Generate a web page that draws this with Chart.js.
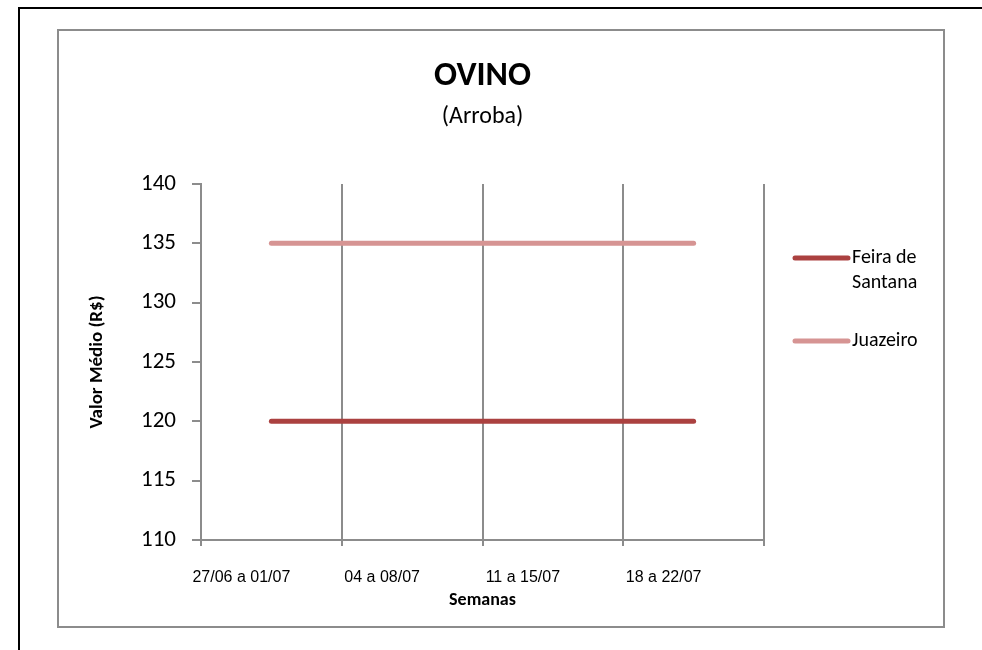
<!DOCTYPE html>
<html>
<head>
<meta charset="utf-8">
<script src="https://cdn.jsdelivr.net/npm/chart.js@4.4.0/dist/chart.umd.min.js"></script>
<style>
  body { margin: 0; background: #fff; }
  #page { position: absolute; left: 18px; top: 7px; width: 962px; height: 650px; border: 2px solid #000; border-bottom: none; }
  #box { position: absolute; left: 57px; top: 29px; width: 884px; height: 595px; border: 2px solid #8c8c8c; }
  #wrap { position: absolute; left: 0; top: 0; width: 982px; height: 650px; }
</style>
</head>
<body>
<div id="page"></div>
<div id="box"></div>
<div id="wrap"><canvas id="ovino" width="982" height="650"></canvas></div>
<script>
// semanas
const weeks = ['27/06 a 01/07', '04 a 08/07', '11 a 15/07', '18 a 22/07'];
// valor medio da arroba (R$)
const feiraSantana = [120, 120, 120, 120];
const juazeiro = [135, 135, 135, 135];
const yTicks = [110, 115, 120, 125, 130, 135, 140];

const FONT = 'Carlito, Lato, sans-serif';

// titulo + legenda desenhados a mao (legenda quebra linha igual ao excel)
const excelBits = {
    id: 'excelBits',
    afterDraw(chart) {
        const ctx = chart.ctx;
        const area = chart.chartArea;
        const cx = (area.left + area.right) / 2;
        ctx.save();
        ctx.fillStyle = '#000';
        ctx.textAlign = 'center';
        ctx.textBaseline = 'middle';
        ctx.font = 'bold 34px ' + FONT;
        ctx.fillText('OVINO', cx, 76);
        ctx.font = '24px ' + FONT;
        ctx.fillText('(Arroba)', cx, 117);

        // legenda
        ctx.textAlign = 'left';
        ctx.font = '20px ' + FONT;
        let y = area.top + 74;
        chart.data.datasets.forEach(ds => {
            const words = ds.label.split(' ');
            let lines = [];
            let cur = '';
            words.forEach(w => {
                const test = cur ? cur + ' ' + w : w;
                if (ctx.measureText(test).width > 80 && cur) {
                    lines.push(cur);
                    cur = w;
                } else {
                    cur = test;
                }
            });
            lines.push(cur);
            ctx.strokeStyle = ds.borderColor;
            ctx.lineWidth = 5;
            ctx.lineCap = 'round';
            ctx.beginPath();
            ctx.moveTo(area.right + 31, y);
            ctx.lineTo(area.right + 84, y);
            ctx.stroke();
            lines.forEach((l, i) => ctx.fillText(l, area.right + 88, y + i * 25));
            y += lines.length * 25 + 33;
        });
        ctx.restore();
    }
};

const chartOvino = new Chart(document.getElementById('ovino').getContext('2d'), {
    type: 'line',
    data: {
        labels: weeks,
        datasets: [
            {
                label: 'Feira de Santana',
                data: feiraSantana,
                borderColor: '#ab4140',
                borderWidth: 5,
                borderCapStyle: 'round',
                pointRadius: 0,
                tension: 0
            },
            {
                label: 'Juazeiro',
                data: juazeiro,
                borderColor: '#d69493',
                borderWidth: 5,
                borderCapStyle: 'round',
                pointRadius: 0,
                tension: 0
            }
        ]
    },
    options: {
        responsive: false,
        animation: false,
        devicePixelRatio: 1,
        layout: {
            padding: { top: 184, left: 80, right: 218, bottom: 30 }
        },
        plugins: {
            legend: { display: false },
            tooltip: { enabled: false },
            title: { display: false }
        },
        scales: {
            x: {
                offset: true,
                grid: {
                    offset: true,
                    color: '#8c8c8c',
                    lineWidth: 2,
                    tickLength: 6,
                    drawTicks: true
                },
                border: { color: '#8c8c8c', width: 2 },
                ticks: {
                    color: '#000',
                    padding: 22,
                    maxRotation: 0,
                    labelOffset: -30,
                    font: { family: '"Liberation Sans", Arial, sans-serif', size: 16 }
                },
                title: {
                    display: true,
                    text: 'Semanas',
                    color: '#000',
                    padding: { top: 0, bottom: 9 },
                    font: { family: FONT, size: 18, weight: 'bold' }
                },
                afterFit(scale) { scale.height = 80; }
            },
            y: {
                min: 110,
                max: 140,
                afterBuildTicks(scale) { scale.ticks = yTicks.map(v => ({ value: v })); },
                grid: {
                    drawOnChartArea: false,
                    color: '#8c8c8c',
                    lineWidth: 2,
                    tickLength: 9
                },
                border: { color: '#8c8c8c', width: 2 },
                ticks: {
                    color: '#000',
                    padding: 16,
                    font: { family: FONT, size: 23 }
                },
                title: {
                    display: true,
                    text: 'Valor Médio (R$)',
                    color: '#000',
                    padding: { top: 6, bottom: 0 },
                    font: { family: FONT, size: 19, weight: 'bold' }
                },
                afterFit(scale) { scale.width = 121; }
            }
        }
    },
    plugins: [excelBits]
});
</script>
</body>
</html>
